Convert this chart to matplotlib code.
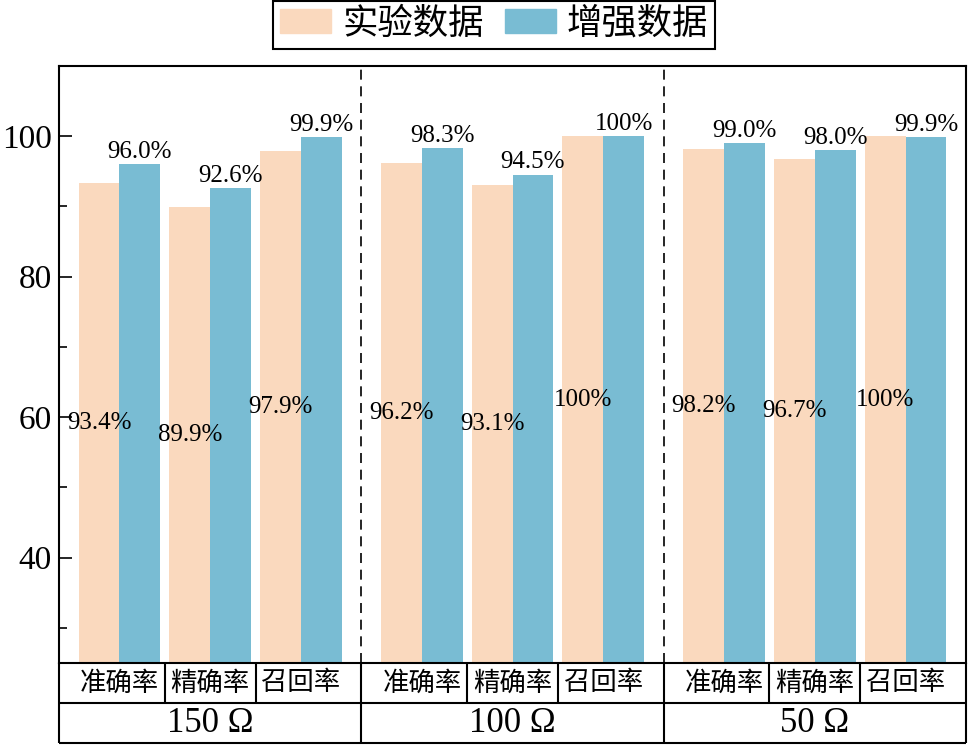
import numpy as np
import matplotlib
matplotlib.use('Agg')
import matplotlib.pyplot as plt
from matplotlib.patches import Patch

plt.rcParams['font.family'] = ['Liberation Serif', 'Noto Sans CJK SC']
plt.rcParams['axes.unicode_minus'] = False

# data
groups = ['150 Ω', '100 Ω', '50 Ω']
metrics = ['准确率', '精确率', '召回率']
exp_vals = [93.4, 89.9, 97.9, 96.2, 93.1, 100, 98.2, 96.7, 100]
aug_vals = [96.0, 92.6, 99.9, 98.3, 94.5, 100, 99.0, 98.0, 99.9]
series_names = ['实验数据', '增强数据']

c_exp = '#FAD9BE'
c_aug = '#79BCD3'
ymin, ymax = 25, 110
gstep = 10 / 3      # spacing between group starts (in category units)
w = 0.45            # bar width

def fmt(v):
    return '100%' if v == 100 else '%.1f%%' % v

fig = plt.figure(figsize=(9.69, 7.45), dpi=100)
ax = fig.add_axes([59/969, 1 - 663/745, 907/969, 597/745])

x = np.array([g*gstep + c for g in range(len(groups)) for c in range(len(metrics))])
ax.bar(x - w/2, exp_vals, w, color=c_exp, zorder=1)
ax.bar(x + w/2, aug_vals, w, color=c_aug, zorder=1)

for xi, v in zip(x, exp_vals):
    ax.text(xi - w/2, (v + ymin)/2, fmt(v), ha='center', va='center',
            fontsize=18, zorder=3)
for xi, v in zip(x, aug_vals):
    ax.annotate(fmt(v), (xi + w/2, v), xytext=(0, 1), textcoords='offset points',
                ha='center', va='bottom', fontsize=18, zorder=3)

ax.set_xlim(-2/3, len(groups)*gstep - 2/3)
ax.set_ylim(ymin, ymax)
ax.set_yticks([40, 60, 80, 100])
ax.set_yticks([30, 50, 70, 90], minor=True)
ax.tick_params(axis='y', which='major', direction='in', length=9.5, width=1.2,
               labelsize=24, pad=5)
ax.tick_params(axis='y', which='minor', direction='in', length=5.5, width=1.2)
ax.set_xticks([])
for s in ax.spines.values():
    s.set_linewidth(1.5)

# table-like category axis under the plot
tr = ax.get_xaxis_transform()
r1 = -40/597
r2 = -80/597
lw = 1.5
xl, xr = ax.get_xlim()
kw = dict(transform=tr, color='k', lw=lw, clip_on=False, solid_capstyle='butt')
ax.plot([xl, xr], [r1, r1], **kw)
ax.plot([xl, xr], [r2, r2], **kw)
ax.plot([xl, xl], [0, r2], **kw)
ax.plot([xr, xr], [0, r2], **kw)
for g in range(len(groups)):
    g0 = g*gstep
    for c in range(len(metrics) - 1):
        ax.plot([g0 + c + 0.5]*2, [0, r1], **kw)
    for c, m in enumerate(metrics):
        ax.text(g0 + c, r1/2, m, transform=tr, ha='center', va='center',
                fontsize=19)
    ax.text(g0 + 1, (r1 + r2)/2, groups[g], transform=tr, ha='center',
            va='center', fontsize=25)
    if g > 0:
        xb = g0 - 2/3
        ax.plot([xb, xb], [0, r2], **kw)
        ax.plot([xb, xb], [0, 1], transform=tr, color='k', lw=1.2,
                ls=(0, (6, 4)), zorder=2)

handles = [Patch(color=c_exp), Patch(color=c_aug)]
fig.legend(handles, series_names, loc='upper center',
           bbox_to_anchor=(0.510, 0.999), ncol=2, fontsize=25.5,
           frameon=True, fancybox=False, edgecolor='k', framealpha=1,
           handlelength=1.45, handleheight=0.7, handletextpad=0.3,
           columnspacing=0.6, borderpad=0.2, borderaxespad=0)
fig.legends[0].get_frame().set_linewidth(1.5)

fig.savefig('out.png', dpi=100)
